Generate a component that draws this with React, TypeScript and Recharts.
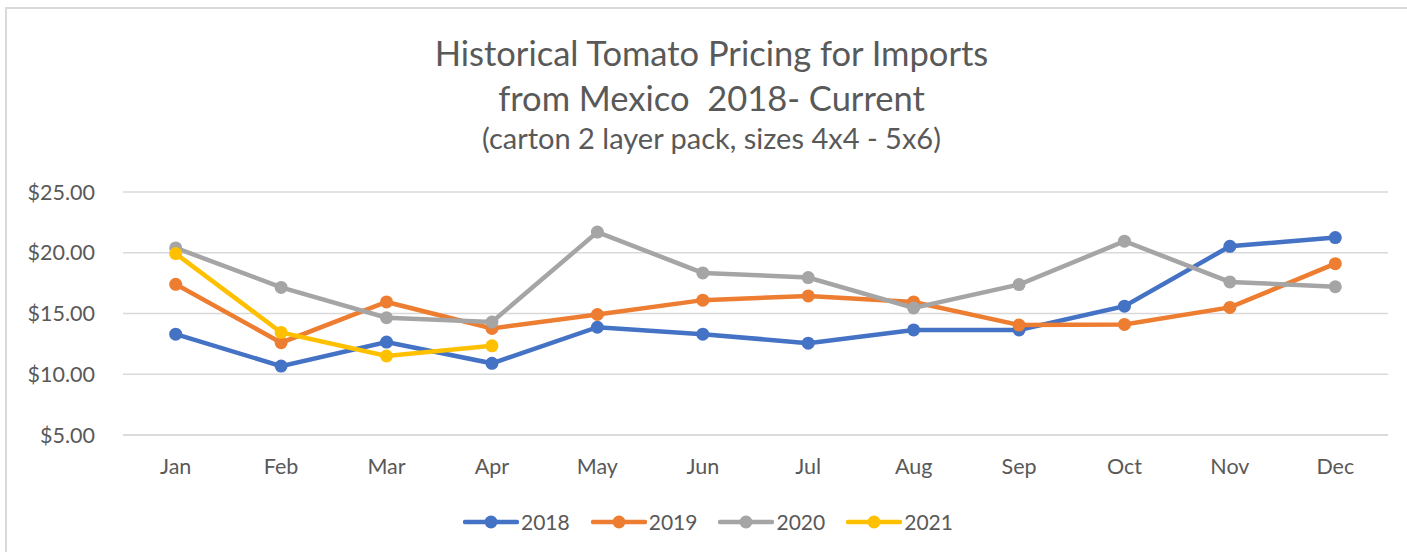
import { LineChart, Line, XAxis, YAxis, CartesianGrid } from "recharts";

const months = ["Jan", "Feb", "Mar", "Apr", "May", "Jun", "Jul", "Aug", "Sep", "Oct", "Nov", "Dec"];

const prices2018 = [13.3, 10.67, 12.65, 10.9, 13.87, 13.3, 12.56, 13.65, 13.65, 15.6, 20.53, 21.25];
const prices2019 = [17.4, 12.6, 15.95, 13.77, 14.92, 16.1, 16.45, 15.95, 14.05, 14.1, 15.5, 19.1];
const prices2020 = [20.4, 17.15, 14.65, 14.3, 21.7, 18.34, 17.96, 15.46, 17.38, 20.95, 17.6, 17.2];
const prices2021 = [19.93, 13.44, 11.5, 12.34];

const yTicks = [5, 10, 15, 20, 25];

const series = [
  { key: "2018", color: "#4472C4" },
  { key: "2019", color: "#ED7D31" },
  { key: "2020", color: "#A5A5A5" },
  { key: "2021", color: "#FFC000" },
];

const data = months.map((m, i) => ({
  month: m,
  "2018": prices2018[i],
  "2019": prices2019[i],
  "2020": prices2020[i],
  "2021": prices2021[i],
}));

const FONT = "Lato, 'Open Sans', sans-serif";
const TEXT = "#595959";

function ChartLegend() {
  return (
    <div
      style={{
        position: "absolute",
        left: 463,
        top: 509,
        display: "flex",
        alignItems: "center",
        fontFamily: FONT,
        fontSize: 21,
        color: TEXT,
      }}
    >
      {series.map((s) => (
        <div key={s.key} style={{ display: "flex", alignItems: "center", marginRight: 21 }}>
          <svg width={56} height={16}>
            <line x1={2} y1={8} x2={54} y2={8} stroke={s.color} strokeWidth={4.5} strokeLinecap="round" />
            <circle cx={28} cy={8} r={6.5} fill={s.color} />
          </svg>
          <span style={{ marginLeft: 2 }}>{s.key}</span>
        </div>
      ))}
    </div>
  );
}

export default function App() {
  return (
    <div style={{ position: "fixed", left: 0, top: 0, width: 1407, height: 552, overflow: "hidden", background: "#fff" }}>
      <div
        style={{
          position: "absolute",
          left: 5,
          top: 7,
          width: 1430,
          height: 600,
          border: "2px solid #D9D9D9",
        }}
      />
      <div
        style={{
          position: "absolute",
          left: 0,
          width: 1423,
          top: 30,
          textAlign: "center",
          fontFamily: FONT,
          color: TEXT,
          lineHeight: "45px",
        }}
      >
        <div style={{ fontSize: 34.5 }}>Historical Tomato Pricing for Imports</div>
        <div style={{ fontSize: 34.5, whiteSpace: "pre" }}>from Mexico  2018- Current</div>
        <div style={{ fontSize: 29, lineHeight: "36px" }}>(carton 2 layer pack, sizes 4x4 - 5x6)</div>
      </div>
      <div style={{ position: "absolute", left: 0, top: 0 }}>
        <LineChart
          width={1407}
          height={552}
          data={data}
          margin={{ top: 192, right: 19, left: 23, bottom: 0 }}
        >
          <CartesianGrid vertical={false} stroke="#D9D9D9" strokeWidth={1.5} />
          <XAxis
            dataKey="month"
            axisLine={{ stroke: "#D9D9D9", strokeWidth: 1.5 }}
            tickLine={false}
            tickSize={0}
            tickMargin={24}
            padding={{ left: 52.7, right: 52.7 }}
            tick={{ fill: TEXT, fontSize: 21.5, fontFamily: FONT }}
            height={117}
          />
          <YAxis
            domain={[5, 25]}
            ticks={yTicks}
            axisLine={false}
            tickLine={false}
            tickSize={0}
            tickMargin={28}
            width={100}
            tickFormatter={(v: number) => `$${v.toFixed(2)}`}
            tick={{ fill: TEXT, fontSize: 21.5, fontFamily: FONT }}
          />
          {series.map((s) => (
            <Line
              key={s.key}
              dataKey={s.key}
              stroke={s.color}
              strokeWidth={4.5}
              dot={{ r: 6.5, fill: s.color, stroke: s.color, strokeWidth: 0 }}
              activeDot={false}
              isAnimationActive={false}
              connectNulls={false}
            />
          ))}
        </LineChart>
      </div>
      <ChartLegend />
    </div>
  );
}
